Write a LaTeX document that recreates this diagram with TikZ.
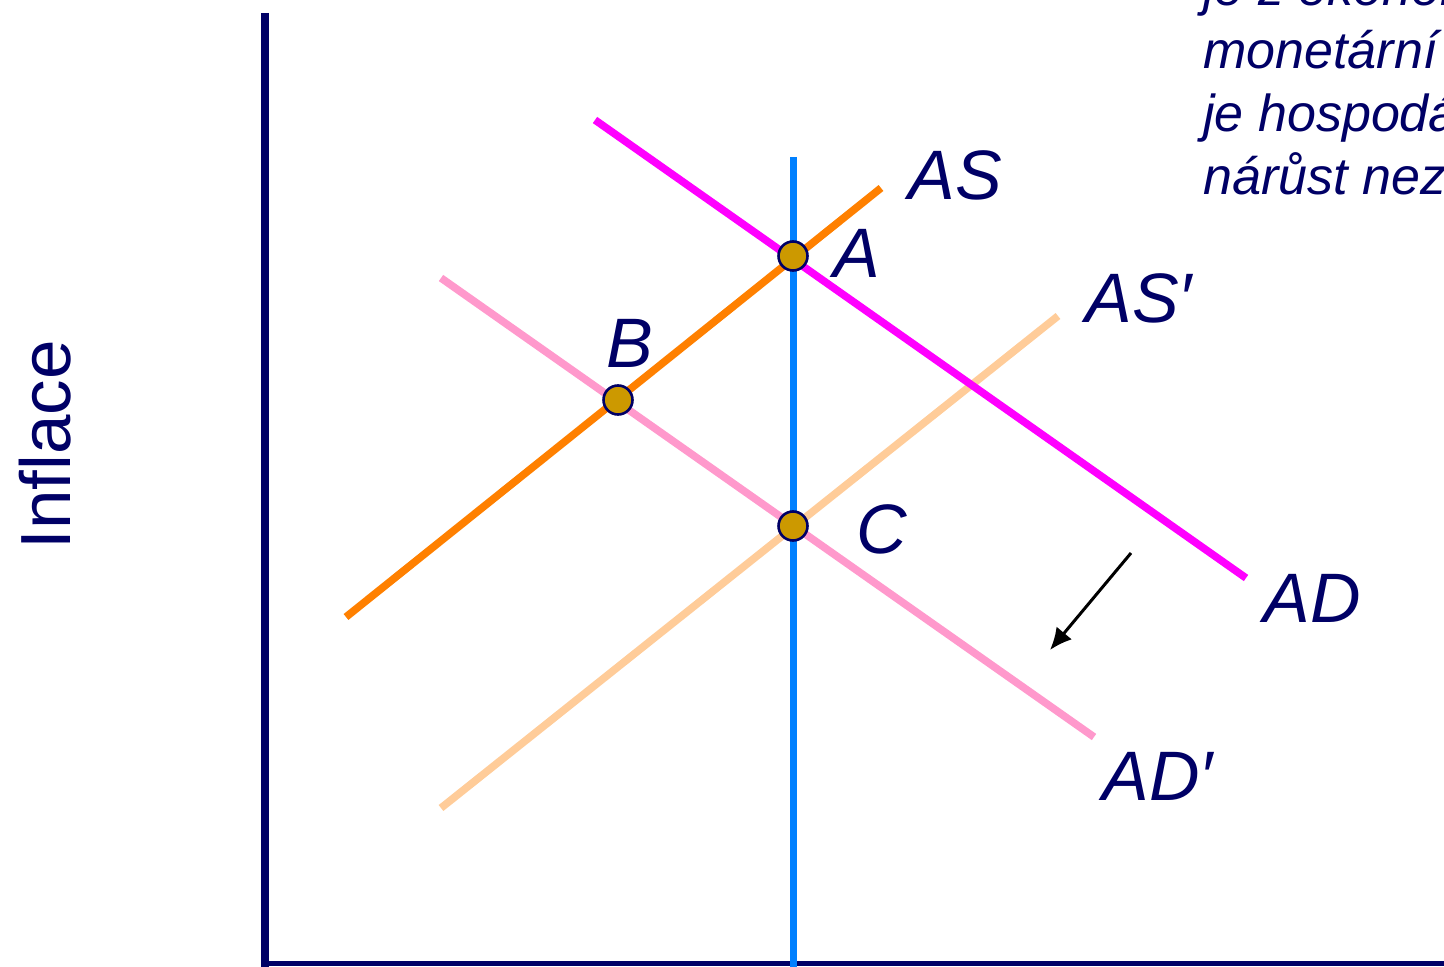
\documentclass[tikz,border=0pt]{standalone}
\usepackage{fontspec}
\setmainfont{Liberation Sans}
\usetikzlibrary{arrows.meta}
\definecolor{tmava}{RGB}{0,0,102}
\definecolor{purpur}{RGB}{255,0,255}
\definecolor{oranz}{RGB}{255,128,0}
\definecolor{ruzova}{RGB}{255,153,204}
\definecolor{broskev}{RGB}{255,204,153}
\definecolor{modra}{RGB}{0,128,255}
\definecolor{zlata}{RGB}{204,153,0}
\tikzset{
  krivka/.style={line width=3.8pt},
  bod/.style={circle,fill=zlata,draw=tmava,line width=1.3pt,inner sep=0pt,minimum size=14.5pt},
  popis/.style={text=tmava,font=\fontsize{35}{40}\selectfont\itshape,inner sep=0pt,anchor=base west}
}

\begin{document}
\begin{tikzpicture}[x=0.5pt,y=-0.5pt]
  \useasboundingbox (0,0) rectangle (1444,967);
  \clip (0,0) rectangle (1444,967);
  % osy
  \coordinate (O) at (265,963);
  \coordinate (Ytop) at (265,13);
  \coordinate (Xend) at (1450,963);
  \draw[tmava,line width=4pt] (Ytop)--(O |- 0,967);
  \draw[tmava,line width=2.5pt] (261,963)--(Xend);
  \node[text=tmava,font=\fontsize{35.5}{40}\selectfont,rotate=90,anchor=base west,inner sep=0pt] (infl) at (70,550) {Inflace};
  % dlouhodobá nabídka
  \coordinate (LRa) at (793,157);
  \coordinate (LRb) at (793,970);
  \draw[modra,line width=3.5pt] (LRa)--(LRb);
  % křivky
  \coordinate (AD1) at (595,120);  \coordinate (AD2) at (1246,578);
  \coordinate (ADc1) at (441,278); \coordinate (ADc2) at (1094,737);
  \coordinate (AS1) at (346,617);  \coordinate (AS2) at (881,188);
  \coordinate (ASc1) at (441,808); \coordinate (ASc2) at (1058,316);
  \draw[krivka,broskev] (ASc1)--(ASc2);
  \draw[krivka,ruzova] (ADc1)--(ADc2);
  \draw[krivka,purpur] (AD1)--(AD2);
  \draw[krivka,oranz] (AS1)--(AS2);
  % rovnováhy
  \node[bod] (A) at (793,256) {};
  \node[bod] (B) at (618,400) {};
  \node[bod] (C) at (793,526) {};
  % popisky
  \node[popis] (lAS) at (908,200) {AS};
  \node[popis] (lA) at (833,278) {A};
  \node[popis] (lASc) at (1085,323) {AS′};
  \node[popis] (lB) at (606,368) {B};
  \node[popis] (lC) at (856,553) {C};
  \node[popis] (lAD) at (1263,622) {AD};
  \node[popis] (lADc) at (1102,800) {AD′};
  % posun poptávky
  \coordinate (s1) at (1131,553);
  \coordinate (s2) at (1050,650);
  \draw[line width=1.5pt,-{Latex[length=11pt,width=10pt]}] (s1)--(s2);
  % text vpravo nahoře
  \node[text=tmava,font=\fontsize{26}{31.5}\selectfont\itshape,anchor=base west,inner sep=0pt,align=left] (txt) at (1203,195)
    {je z ekonomického\\monetární politiky\\je hospodářství\\nárůst nezaměstnanosti};
\end{tikzpicture}
\end{document}
